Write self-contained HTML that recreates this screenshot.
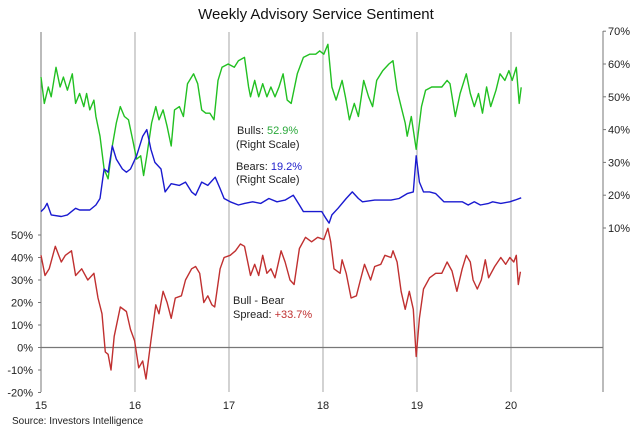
<!DOCTYPE html>
<html><head><meta charset="utf-8"><style>
body{margin:0;background:#fff;}
svg{display:block;font-family:"Liberation Sans",sans-serif;}
</style></head><body>
<svg id="chart" width="640" height="432" viewBox="0 0 640 432" xmlns="http://www.w3.org/2000/svg">
<text x="316" y="19" font-size="15" text-anchor="middle" fill="#111">Weekly Advisory Service Sentiment</text>
<g id="grid"></g>
<g id="axes"></g>
<g id="series"></g>
<text x="237" y="134" font-size="11" fill="#222">Bulls: <tspan fill="#2aa83a">52.9%</tspan></text>
<text x="236" y="148" font-size="11" fill="#222">(Right Scale)</text>
<text x="236" y="170" font-size="11" fill="#222">Bears: <tspan fill="#2222cc">19.2%</tspan></text>
<text x="236" y="183" font-size="11" fill="#222">(Right Scale)</text>
<text x="233" y="304" font-size="11" fill="#222">Bull - Bear</text>
<text x="233" y="318" font-size="11" fill="#222">Spread: <tspan fill="#c03030">+33.7%</tspan></text>
<text x="12" y="424" font-size="10" fill="#222">Source: Investors Intelligence</text>
</svg>
<script>
// dates are years since 2015
const bullDates=[0,.035,.078,.108,.160,.203,.238,.281,.333,.368,.411,.455,.485,.519,.563,.584,.628,.671,.714,.758,.801,.844,.887,.931,.974,1.017,1.061,1.091,1.126,1.177,1.221,1.255,1.299,1.342,1.385,1.420,1.472,1.515,1.558,1.623,1.667,1.710,1.753,1.797,1.840,1.883,1.926,1.991,2.056,2.100,2.165,2.208,2.229,2.273,2.316,2.359,2.403,2.446,2.489,2.532,2.576,2.619,2.662,2.727,2.792,2.857,2.922,2.965,3.009,3.052,3.095,3.139,3.203,3.238,3.281,3.333,3.377,3.433,3.485,3.528,3.571,3.636,3.701,3.745,3.788,3.831,3.874,3.896,3.939,3.991,4.048,4.091,4.156,4.199,4.264,4.320,4.351,4.407,4.459,4.524,4.567,4.610,4.654,4.697,4.740,4.784,4.840,4.883,4.935,4.978,5.013,5.056,5.087,5.108];
const bulls=[56,48,53,50,59,53,56,52,57,48,51,47,51,46,49,44,38,28,25,35,42,47,44,43,37,31,32,26,32,42,47,43,46,41,35,46,47,44,54,57,54,46,45,45,43,55,59,60,59,61,62,53,50,55,50,54,50,53,50,53,57,49,48,57,62,63,63,64,63,66,53,49,55,50,43,48,44,55,50,47,55,58,60,61,52,47,42,38,44,34,47,52,53,53,53,55,54,44,51,57,51,47,51,45,53,47,52,57,55,58,55,59,48,52.9];
const bearDates=[0,.035,.065,.108,.216,.281,.325,.368,.411,.519,.584,.628,.671,.714,.758,.801,.866,.909,.952,1.017,1.082,1.126,1.169,1.212,1.277,1.320,1.385,1.472,1.537,1.602,1.645,1.710,1.775,1.853,1.905,1.948,2.013,2.100,2.165,2.251,2.338,2.424,2.511,2.597,2.684,2.749,2.792,2.987,3.030,3.065,3.095,3.160,3.247,3.312,3.377,3.420,3.550,3.723,3.810,3.896,3.961,3.991,4.026,4.069,4.134,4.199,4.286,4.372,4.481,4.545,4.610,4.675,4.762,4.805,4.892,4.987,5.043,5.108];
const bears=[15,16,17.5,14,13.5,14,15,16,15.5,15.5,17,19,28,27,35,31,28,27,28,32,38,40,34,30,28,21,23.5,23,24,21,20,24,23,25.5,22,19,18,17,17.5,18,17.5,19,18,18.5,20,17,15,15,13,11.5,14,16,19,21,19,18,18.5,18.5,19,20.5,21,32,24,21,21,20.5,18,18,18,17,18,17,17.5,18,17.5,18,18.5,19.2];
const spreadDates=[0,.043,.087,.152,.216,.260,.325,.368,.433,.498,.563,.606,.649,.684,.714,.745,.779,.844,.909,.952,.996,1.039,1.082,1.117,1.169,1.221,1.255,1.299,1.342,1.385,1.429,1.494,1.537,1.602,1.645,1.688,1.732,1.775,1.818,1.848,1.905,1.948,2.013,2.069,2.121,2.165,2.229,2.273,2.316,2.359,2.403,2.446,2.489,2.554,2.597,2.649,2.693,2.749,2.814,2.879,2.944,3.009,3.052,3.082,3.117,3.182,3.203,3.247,3.299,3.355,3.398,3.442,3.506,3.550,3.615,3.658,3.723,3.745,3.788,3.831,3.874,3.918,3.961,3.991,4.026,4.069,4.134,4.199,4.264,4.320,4.372,4.424,4.481,4.524,4.567,4.597,4.641,4.684,4.727,4.762,4.827,4.892,4.944,4.987,5.030,5.056,5.078,5.100];
const spread=[41,32,35,45,38,41,43,32,35,30,33,22,15,-2,-3,-10,5,18,16,8,3,-9,-6,-14,3,19,15,25,20,13,22,23,30,35,36,33,20,23,19,18,35,40,41,43,46,45,32,37,32,41,33,35,31,43,38,30,28,44,49,47,49,48,53,47,35,33,39,33,22,23,30,37,30,36,37,41,40,43,38,25,17,25,17,-4,13,26,31,33,33,38,34,25,35,41,38,30,26,30,39,31,36,40,37,40,38,41,28,33.7];
const years=["15","16","17","18","19","20"];
const leftTicks=[-20,-10,0,10,20,30,40,50];
const rightTicks=[10,20,30,40,50,60,70];
const NS="http://www.w3.org/2000/svg";
const xS=d=>41+d*94;
const yR=v=>228-(v-10)*3.28;
const yL=v=>347.5-v*2.25;
function mk(t,a,p){const e=document.createElementNS(NS,t);for(const k in a)e.setAttribute(k,a[k]);p.appendChild(e);return e;}
const grid=document.getElementById('grid'),axes=document.getElementById('axes'),ser=document.getElementById('series');
years.forEach((y,i)=>{const x=xS(i);
 if(i>0){const l=mk('line',{x1:x,x2:x,y1:32,y2:392,stroke:'#bbb','stroke-width':1.3},grid);
 
 }
 const t=mk('text',{x:x,y:409,'font-size':11,'text-anchor':'middle',fill:'#222'},axes);t.textContent=y;
 
 });
mk('line',{x1:41,x2:41,y1:32,y2:392,stroke:'#777','stroke-width':1},axes);
mk('line',{x1:603,x2:603,y1:31,y2:392,stroke:'#777','stroke-width':1},axes);
const z=mk('line',{x1:41,x2:603,y1:yL(0),y2:yL(0),stroke:'#777','stroke-width':1.3},axes);


leftTicks.forEach(v=>{mk('line',{x1:38,x2:41,y1:yL(v),y2:yL(v),stroke:'#777'},axes);
 const t=mk('text',{x:33,y:yL(v)+4,'font-size':11,'text-anchor':'end',fill:'#222'},axes);t.textContent=v+'%';
 
 });
rightTicks.forEach(v=>{mk('line',{x1:603,x2:606,y1:yR(v),y2:yR(v),stroke:'#777'},axes);
 const t=mk('text',{x:608,y:yR(v)+4,'font-size':11,fill:'#222'},axes);t.textContent=v+'%';
 
 });
function line(ds,vals,yf,col,name){const d=vals.map((v,i)=>(i?'L':'M')+xS(ds[i]).toFixed(1)+','+yf(v).toFixed(1)).join('');
 const p=mk('path',{d:d,fill:'none',stroke:col,'stroke-width':1.4,'stroke-linejoin':'round'},ser);
 
 }
line(bullDates,bulls,yR,'#22c022','bulls-line');
line(bearDates,bears,yR,'#1a1ad0','bears-line');
line(spreadDates,spread,yL,'#c03030','spread-line');
</script>
</body></html>
